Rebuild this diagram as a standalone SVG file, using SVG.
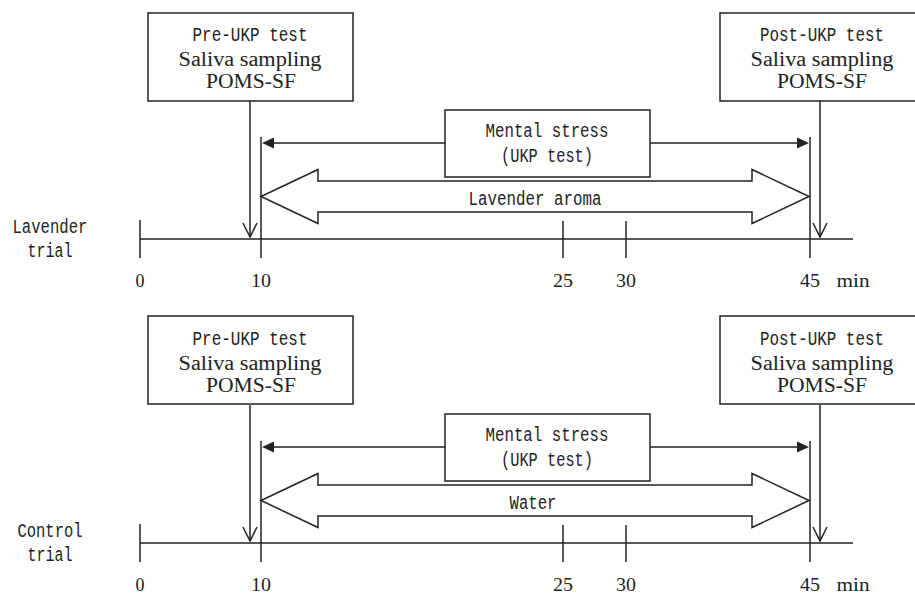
<svg xmlns="http://www.w3.org/2000/svg" width="915" height="597" viewBox="0 0 915 597">
<style>
.ln{stroke:#222;stroke-width:1.5;fill:none}
.box{stroke:#222;stroke-width:1.5;fill:#fff}
.mono{font-family:"Liberation Mono","DejaVu Sans Mono",monospace;font-size:20.5px;fill:#222;text-anchor:middle}
.serif{font-family:"Liberation Serif","DejaVu Serif",serif;font-size:20px;fill:#222;text-anchor:middle}
.num{font-family:"Liberation Serif","DejaVu Serif",serif;font-size:18px;fill:#222;text-anchor:middle}
.head{fill:#222;stroke:none}
</style>

<!-- ===== Lavender trial panel ===== -->
<g id="lavender-panel">
  <g id="lav-connectors">
    <line class="ln" x1="140" y1="239" x2="853" y2="239"/>
    <line class="ln" x1="140" y1="220" x2="140" y2="258"/>
    <line class="ln" x1="261" y1="137" x2="261" y2="258"/>
    <line class="ln" x1="563" y1="221" x2="563" y2="258"/>
    <line class="ln" x1="626" y1="221" x2="626" y2="258"/>
    <line class="ln" x1="810" y1="137" x2="810" y2="258"/>
    <line class="ln" x1="250" y1="101" x2="250" y2="237"/>
    <polyline class="ln" points="243,223 250,237 257,223"/>
    <line class="ln" x1="820" y1="101" x2="820" y2="237"/>
    <polyline class="ln" points="813,223 820,237 827,223"/>
    <line class="ln" x1="445" y1="143" x2="272" y2="143"/>
    <polygon class="head" points="262,143 274,137.5 274,148.5"/>
    <line class="ln" x1="650" y1="143" x2="799" y2="143"/>
    <polygon class="head" points="809,143 797,137.5 797,148.5"/>
  </g>
  <g id="lav-pre">
    <rect class="box" x="148" y="13" width="205" height="88"/>
    <text class="mono" x="250" y="40.5" textLength="115" lengthAdjust="spacingAndGlyphs">Pre-UKP test</text>
    <text class="serif" x="250" y="66" textLength="143" lengthAdjust="spacingAndGlyphs">Saliva sampling</text>
    <text class="serif" x="251" y="88" textLength="90" lengthAdjust="spacingAndGlyphs">POMS-SF</text>
  </g>
  <g id="lav-post">
    <path class="box" d="M915,13 H720 V101 H915"/>
    <text class="mono" x="822" y="40.5" textLength="124" lengthAdjust="spacingAndGlyphs">Post-UKP test</text>
    <text class="serif" x="822" y="66" textLength="143" lengthAdjust="spacingAndGlyphs">Saliva sampling</text>
    <text class="serif" x="822" y="88" textLength="90" lengthAdjust="spacingAndGlyphs">POMS-SF</text>
  </g>
  <g id="lav-stress">
    <rect class="box" x="445" y="110" width="205" height="67"/>
    <text class="mono" x="547" y="137" textLength="123" lengthAdjust="spacingAndGlyphs">Mental stress</text>
    <text class="mono" x="547" y="162" textLength="92" lengthAdjust="spacingAndGlyphs">(UKP test)</text>
  </g>
  <g id="lav-aroma">
    <polygon class="box" points="261,196.5 318,169.5 318,181 752,181 752,169.5 809,196.5 752,223.5 752,212 318,212 318,223.5"/>
    <text class="mono" x="535" y="205" textLength="133" lengthAdjust="spacingAndGlyphs">Lavender aroma</text>
  </g>
  <g id="lav-labels">
    <text class="mono" x="50" y="233" textLength="75" lengthAdjust="spacingAndGlyphs">Lavender</text>
    <text class="mono" x="50" y="257" textLength="45" lengthAdjust="spacingAndGlyphs">trial</text>
    <text class="num" x="140" y="287">0</text>
    <text class="num" x="261" y="287" textLength="20" lengthAdjust="spacingAndGlyphs">10</text>
    <text class="num" x="563" y="287" textLength="20" lengthAdjust="spacingAndGlyphs">25</text>
    <text class="num" x="626" y="287" textLength="20" lengthAdjust="spacingAndGlyphs">30</text>
    <text class="num" x="810" y="287" textLength="20" lengthAdjust="spacingAndGlyphs">45</text>
    <text class="num" x="853" y="287" textLength="33" lengthAdjust="spacingAndGlyphs">min</text>
  </g>
</g>

<!-- ===== Control trial panel ===== -->
<g id="control-panel" transform="translate(0,304)">
  <g id="ctl-connectors">
    <line class="ln" x1="140" y1="239" x2="853" y2="239"/>
    <line class="ln" x1="140" y1="220" x2="140" y2="258"/>
    <line class="ln" x1="261" y1="137" x2="261" y2="258"/>
    <line class="ln" x1="563" y1="221" x2="563" y2="258"/>
    <line class="ln" x1="626" y1="221" x2="626" y2="258"/>
    <line class="ln" x1="810" y1="137" x2="810" y2="258"/>
    <line class="ln" x1="250" y1="101" x2="250" y2="237"/>
    <polyline class="ln" points="243,223 250,237 257,223"/>
    <line class="ln" x1="820" y1="101" x2="820" y2="237"/>
    <polyline class="ln" points="813,223 820,237 827,223"/>
    <line class="ln" x1="445" y1="143" x2="272" y2="143"/>
    <polygon class="head" points="262,143 274,137.5 274,148.5"/>
    <line class="ln" x1="650" y1="143" x2="799" y2="143"/>
    <polygon class="head" points="809,143 797,137.5 797,148.5"/>
  </g>
  <g id="ctl-pre">
    <rect class="box" x="148" y="12" width="205" height="88"/>
    <text class="mono" x="250" y="40.5" textLength="115" lengthAdjust="spacingAndGlyphs">Pre-UKP test</text>
    <text class="serif" x="250" y="66" textLength="143" lengthAdjust="spacingAndGlyphs">Saliva sampling</text>
    <text class="serif" x="251" y="88" textLength="90" lengthAdjust="spacingAndGlyphs">POMS-SF</text>
  </g>
  <g id="ctl-post">
    <path class="box" d="M915,12 H720 V100 H915"/>
    <text class="mono" x="822" y="40.5" textLength="124" lengthAdjust="spacingAndGlyphs">Post-UKP test</text>
    <text class="serif" x="822" y="66" textLength="143" lengthAdjust="spacingAndGlyphs">Saliva sampling</text>
    <text class="serif" x="822" y="88" textLength="90" lengthAdjust="spacingAndGlyphs">POMS-SF</text>
  </g>
  <g id="ctl-stress">
    <rect class="box" x="445" y="110" width="205" height="67"/>
    <text class="mono" x="547" y="137" textLength="123" lengthAdjust="spacingAndGlyphs">Mental stress</text>
    <text class="mono" x="547" y="162" textLength="92" lengthAdjust="spacingAndGlyphs">(UKP test)</text>
  </g>
  <g id="ctl-water">
    <polygon class="box" points="261,196.5 318,169.5 318,181 752,181 752,169.5 809,196.5 752,223.5 752,212 318,212 318,223.5"/>
    <text class="mono" x="533" y="205" textLength="47" lengthAdjust="spacingAndGlyphs">Water</text>
  </g>
  <g id="ctl-labels">
    <text class="mono" x="50" y="233" textLength="65" lengthAdjust="spacingAndGlyphs">Control</text>
    <text class="mono" x="50" y="257" textLength="45" lengthAdjust="spacingAndGlyphs">trial</text>
    <text class="num" x="140" y="287">0</text>
    <text class="num" x="261" y="287" textLength="20" lengthAdjust="spacingAndGlyphs">10</text>
    <text class="num" x="563" y="287" textLength="20" lengthAdjust="spacingAndGlyphs">25</text>
    <text class="num" x="626" y="287" textLength="20" lengthAdjust="spacingAndGlyphs">30</text>
    <text class="num" x="810" y="287" textLength="20" lengthAdjust="spacingAndGlyphs">45</text>
    <text class="num" x="853" y="287" textLength="33" lengthAdjust="spacingAndGlyphs">min</text>
  </g>
</g>
</svg>
